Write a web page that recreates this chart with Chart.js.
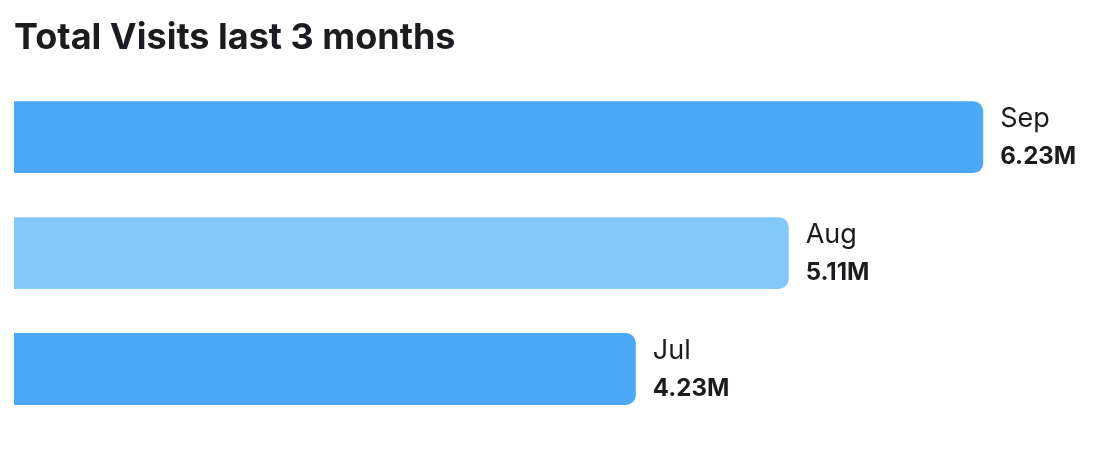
<!DOCTYPE html>
<html>
<head>
<meta charset="utf-8">
<script src="https://cdn.jsdelivr.net/npm/chart.js@4"></script>
<style>
body{margin:0;background:#fff;}
#wrap{width:1098px;height:450px;}
</style>
</head>
<body>
<div id="wrap"><canvas id="graf"></canvas></div>
<script>
var months = ['Sep', 'Aug', 'Jul'];
var visits = [6230000, 5110000, 4230000];
var barColors = ['#4ba8f7', '#82c9f9', '#4ba8f7'];

// month name + value written to the right of each bar
var barLabels = {
    id: 'barLabels',
    afterDatasetsDraw: function(chart) {
        var c = chart.ctx;
        var bars = chart.getDatasetMeta(0).data;
        c.save();
        c.fillStyle = '#1b1c21';
        c.textAlign = 'left';
        c.textBaseline = 'alphabetic';
        bars.forEach(function(bar, i) {
            c.font = '400 27px Inter';
            c.fillText(months[i], bar.x + 17, bar.y - 10);
            c.font = '700 24px Inter';
            c.fillText((visits[i] / 1e6).toFixed(2) + 'M', bar.x + 17, bar.y + 27);
        });
        c.restore();
    }
};

var ctx = document.getElementById("graf").getContext("2d");
var graf = new Chart(ctx, {
    type: 'bar',
    data: {
        labels: months,
        datasets: [{
            label: 'Total Visits',
            data: visits,
            backgroundColor: barColors,
            borderRadius: 10,
            borderSkipped: 'start',
            barPercentage: 0.62,
            categoryPercentage: 1
        }]
    },
    options: {
        indexAxis: 'y',
        responsive: true,
        maintainAspectRatio: false,
        animation: false,
        layout: {
            padding: {left: 14, right: 14, top: 0, bottom: 23}
        },
        scales: {
            x: {display: false, min: 650000, max: 6810000},
            y: {display: false}
        },
        plugins: {
            legend: {display: false},
            tooltip: {enabled: false},
            title: {
                display: true,
                text: 'Total Visits last 3 months',
                align: 'start',
                color: '#1b1c21',
                font: {family: 'Inter', size: 36, weight: '700', lineHeight: 1.2},
                padding: {top: 17, bottom: 19}
            }
        }
    },
    plugins: [barLabels]
});
</script>
</body>
</html>
